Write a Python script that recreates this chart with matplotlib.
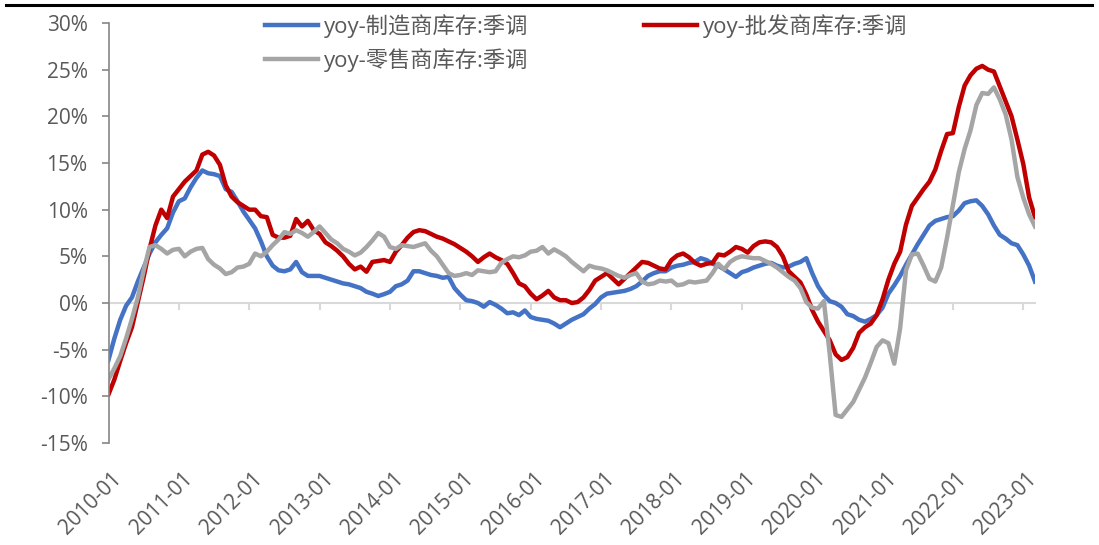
import numpy as np
import pandas as pd
import matplotlib
matplotlib.use("Agg")
import matplotlib.pyplot as plt
from matplotlib.lines import Line2D
from matplotlib.ticker import FuncFormatter
import matplotlib.transforms as mtransforms

plt.rcParams['font.family'] = ['Open Sans', 'Noto Sans CJK SC', 'DejaVu Sans']

# monthly, 2010-01 .. 2023-03, yoy %
months = pd.period_range('2010-01', '2023-03', freq='M').strftime('%Y-%m').tolist()

manufacturing = [
    -6.1, -3.8, -1.8, -0.3, 0.6, 2.3, 3.8, 5.3, 6.5, 7.3, 8.0, 9.7,
    10.9, 11.2, 12.4, 13.4, 14.2, 13.9, 13.8, 13.6, 12.2, 11.9, 10.9, 9.8,
    8.9, 8.0, 6.6, 5.0, 4.0, 3.5, 3.4, 3.6, 4.4, 3.3, 2.9, 2.9,
    2.9, 2.7, 2.5, 2.3, 2.1, 2.0, 1.8, 1.6, 1.2, 1.0, 0.75, 0.95,
    1.2, 1.8, 2.0, 2.4, 3.4, 3.4, 3.2, 3.0, 2.9, 2.7, 2.8, 1.6,
    0.9, 0.3, 0.2, 0.0, -0.4, 0.1, -0.2, -0.6, -1.1, -1.0, -1.3, -0.8,
    -1.5, -1.7, -1.8, -1.9, -2.2, -2.6, -2.2, -1.8, -1.5, -1.2, -0.6, -0.1,
    0.6, 1.0, 1.1, 1.2, 1.3, 1.5, 1.8, 2.3, 2.9, 3.2, 3.4, 3.4,
    3.8, 4.0, 4.1, 4.3, 4.4, 4.8, 4.6, 4.2, 4.0, 3.6, 3.2, 2.8,
    3.3, 3.5, 3.8, 4.0, 4.2, 4.3, 4.0, 3.8, 3.9, 4.2, 4.4, 4.8,
    3.2, 1.8, 0.85, 0.2, 0.0, -0.4, -1.2, -1.4, -1.8, -2.0, -1.7, -1.3,
    -0.5, 1.0, 1.9, 2.9, 4.1, 5.2, 6.3, 7.3, 8.3, 8.8, 9.0, 9.2,
    9.3, 9.9, 10.7, 10.9, 11.0, 10.4, 9.5, 8.3, 7.3, 6.9, 6.4, 6.2,
    5.2, 4.0, 2.3,
]

wholesale = [
    -9.8, -8.2, -6.2, -4.3, -2.6, 0.1, 2.8, 5.8, 8.3, 10.0, 9.1, 11.4,
    12.2, 13.0, 13.6, 14.2, 15.9, 16.2, 15.8, 14.8, 12.6, 11.4, 10.8, 10.4,
    10.0, 10.0, 9.3, 9.2, 7.3, 7.0, 7.0, 7.2, 9.0, 8.2, 8.8, 7.8,
    7.4, 6.5, 6.1, 5.6, 5.0, 4.2, 3.6, 3.9, 3.35, 4.4, 4.5, 4.6,
    4.4, 5.5, 6.2, 7.0, 7.6, 7.8, 7.7, 7.4, 7.1, 6.9, 6.6, 6.3,
    5.9, 5.5, 5.0, 4.4, 4.9, 5.3, 4.9, 4.6, 4.2, 3.2, 2.1, 1.8,
    1.0, 0.4, 0.8, 1.3, 0.6, 0.3, 0.3, 0.0, 0.1, 0.6, 1.4, 2.4,
    2.8, 3.2, 2.6, 2.0, 2.6, 3.2, 3.8, 4.4, 4.3, 4.0, 3.7, 3.6,
    4.6, 5.1, 5.3, 4.9, 4.3, 4.0, 4.2, 4.3, 5.2, 5.1, 5.5, 6.0,
    5.8, 5.4, 6.1, 6.5, 6.6, 6.5, 6.0, 5.0, 3.4, 2.8, 2.2, 0.9,
    -0.75, -2.0, -3.0, -4.0, -5.5, -6.1, -5.8, -4.8, -3.2, -2.6, -2.2, -1.3,
    0.4, 2.5, 4.2, 5.5, 8.4, 10.4, 11.3, 12.2, 13.0, 14.3, 16.3, 18.1,
    18.2, 21.0, 23.3, 24.4, 25.1, 25.4, 25.0, 24.8, 23.2, 21.6, 20.0, 17.5,
    14.9, 11.3, 9.2,
]

retail = [
    -8.2, -7.0, -5.7, -3.8, -1.7, 0.6, 3.5, 6.0, 6.2, 5.8, 5.3, 5.7,
    5.8, 5.0, 5.5, 5.8, 5.9, 4.7, 4.1, 3.7, 3.1, 3.3, 3.8, 3.9,
    4.2, 5.3, 5.0, 5.5, 6.2, 6.8, 7.6, 7.4, 7.8, 7.5, 7.1, 7.6,
    8.2, 7.5, 6.8, 6.4, 5.8, 5.5, 5.1, 5.4, 6.0, 6.7, 7.5, 7.1,
    6.0, 5.8, 6.2, 6.1, 6.0, 6.2, 6.4, 5.6, 5.0, 4.1, 3.2, 2.9,
    3.0, 3.2, 3.0, 3.5, 3.4, 3.3, 3.4, 4.3, 4.7, 5.0, 4.9, 5.1,
    5.5, 5.6, 6.0, 5.3, 5.75, 5.4, 5.0, 4.4, 3.9, 3.4, 4.0, 3.8,
    3.7, 3.5, 3.2, 2.9, 2.7, 3.0, 3.2, 2.3, 2.0, 2.1, 2.4, 2.3,
    2.4, 1.9, 2.0, 2.3, 2.2, 2.3, 2.4, 3.2, 4.2, 3.6, 4.4, 4.8,
    5.0, 4.9, 4.8, 4.8, 4.5, 4.2, 3.8, 3.3, 2.8, 2.4, 1.6, 0.1,
    -0.5, -0.6, 0.2, -5.5, -12.0, -12.2, -11.4, -10.6, -9.3, -8.0, -6.4, -4.7,
    -4.0, -4.3, -6.5, -2.7, 3.5, 5.2, 5.3, 4.0, 2.6, 2.3, 3.8, 7.0,
    10.5, 14.0, 16.5, 18.5, 21.2, 22.5, 22.4, 23.1, 21.8, 20.2, 17.5, 13.5,
    11.3, 9.5, 8.2,
]

labels = ['yoy-制造商库存:季调', 'yoy-批发商库存:季调', 'yoy-零售商库存:季调']
colors = ['#4472C4', '#C00000', '#A5A5A5']

x = np.arange(len(months))
fig = plt.figure(figsize=(10.99, 5.45), dpi=100)
ax = fig.add_axes([108.5 / 1099, 1 - 443 / 545, (1035 - 108.5) / 1099, 420 / 545])

lines = []
for vals, lab, col in zip([manufacturing, wholesale, retail], labels, colors):
    ln, = ax.plot(x, vals, color=col, lw=3.2, label=lab, solid_joinstyle='round')
    lines.append(ln)

ax.set_xlim(0, len(months) - 1)
ax.set_ylim(-15, 30)
ax.set_yticks(range(-15, 31, 5))
ax.yaxis.set_major_formatter(FuncFormatter(lambda v, p: f'{v:.0f}%'))

gray_txt = '#595959'
axis_col = '#868686'
for s in ['top', 'right', 'bottom']:
    ax.spines[s].set_visible(False)
ax.spines['left'].set_color(axis_col)
ax.spines['left'].set_linewidth(1.2)
ax.tick_params(axis='y', direction='out', length=5, width=1.2, color=axis_col,
               labelsize=15, labelcolor=gray_txt, pad=10)

year_idx = x[::12]
ax.set_xticks(year_idx)
ax.set_xticklabels([months[i] for i in year_idx], rotation=45, ha='right',
                   va='top', rotation_mode='anchor')
ax.tick_params(axis='x', length=0, labelsize=15, labelcolor=gray_txt, pad=18)
offset = mtransforms.ScaledTranslation(3 / 100, 0, fig.dpi_scale_trans)
for t in ax.get_xticklabels():
    t.set_transform(t.get_transform() + offset)

# zero line with year ticks
sec = ax.secondary_xaxis(15 / 45)
sec.set_xticks(year_idx, labels=[])
sec.xaxis.set_ticks_position('bottom')
sec.tick_params(axis='x', direction='out', length=5, width=1.5, color='#D9D9D9',
                labelbottom=False, labeltop=False)
for s in sec.spines.values():
    s.set_color('#D9D9D9')
    s.set_linewidth(1.5)
sec.set_zorder(0)

fig.add_artist(Line2D([6 / 1099, 1092 / 1099], [1 - 5 / 545, 1 - 5 / 545],
                      color='black', lw=2.2))

fig.legend([lines[0], lines[2], lines[1]], [labels[0], labels[2], labels[1]],
           ncol=2, loc='upper left', bbox_to_anchor=(265 / 1099, 1 - 14 / 545),
           frameon=False, fontsize=16, labelcolor=gray_txt, handlelength=2.4,
           handletextpad=0.25, columnspacing=5.2, labelspacing=0.45,
           borderpad=0, borderaxespad=0)

fig.savefig('out.png', dpi=100)
